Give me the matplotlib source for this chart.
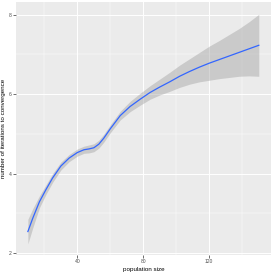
import matplotlib
matplotlib.use("Agg")
import matplotlib.pyplot as plt
from matplotlib.ticker import FixedLocator

plt.rcParams['font.family'] = ['Liberation Sans', 'DejaVu Sans']

pop_size = [10, 13, 17, 21, 25, 30, 35, 40, 44, 47, 50, 53, 56, 60, 66, 72, 78, 84,
            90, 96, 102, 108, 114, 120, 126, 132, 138, 144, 150]
iterations = [2.54, 2.88, 3.29, 3.60, 3.89, 4.19, 4.39, 4.53, 4.60, 4.62, 4.65, 4.74,
              4.89, 5.13, 5.46, 5.69, 5.87, 6.04, 6.18, 6.31, 6.45, 6.57, 6.68, 6.78,
              6.87, 6.96, 7.05, 7.14, 7.23]
ci_half = [0.31, 0.24, 0.15, 0.12, 0.11, 0.10, 0.09, 0.09, 0.09, 0.10, 0.10, 0.10,
           0.10, 0.10, 0.11, 0.13, 0.15, 0.17, 0.20, 0.24, 0.28, 0.32, 0.37, 0.43,
           0.48, 0.54, 0.60, 0.68, 0.78]

x_ticks = [40, 80, 120]
y_ticks = [2, 4, 6, 8]

lower = [m - h for m, h in zip(iterations, ci_half)]
upper = [m + h for m, h in zip(iterations, ci_half)]

fig = plt.figure(figsize=(2.73, 2.73), dpi=100)
ax = fig.add_axes([16/273, 18/273, 255/273, 253/273])
ax.set_facecolor("#EBEBEB")

ax.fill_between(pop_size, lower, upper, color="#999999", alpha=0.4, linewidth=0, zorder=2)
ax.plot(pop_size, iterations, color="#3366FF", linewidth=0.9, zorder=3)

ax.set_xlim(2.8, 157.4)
ax.set_ylim(1.95, 8.32)
ax.xaxis.set_major_locator(FixedLocator(x_ticks))
ax.yaxis.set_major_locator(FixedLocator(y_ticks))
ax.xaxis.set_minor_locator(FixedLocator([20, 60, 100, 140]))
ax.yaxis.set_minor_locator(FixedLocator([3, 5, 7]))
ax.grid(which="major", color="white", linewidth=0.7, zorder=0)
ax.grid(which="minor", color="white", linewidth=0.35, zorder=0)
ax.set_axisbelow(True)
for s in ax.spines.values():
    s.set_visible(False)
ax.tick_params(which="major", length=2, width=0.5, color="#333333",
               labelsize=3.6, labelcolor="#4D4D4D", pad=1)
ax.tick_params(which="minor", length=0)

ax.set_xlabel("population size", fontsize=4.5, labelpad=2)
ax.set_ylabel("number of iterations to convergence", fontsize=4.5, labelpad=2)

fig.savefig("out.png", dpi=100, facecolor="white")
